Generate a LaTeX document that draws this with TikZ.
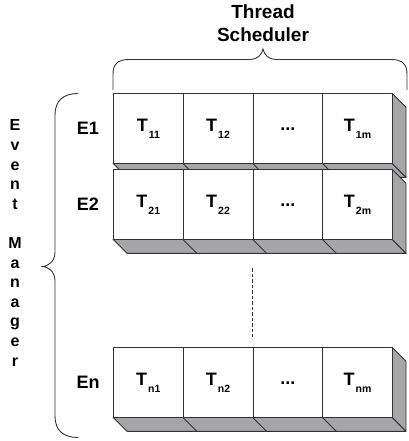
\documentclass[tikz,border=0pt]{standalone}
\usepackage{fontspec}
\setmainfont{Liberation Sans}
\definecolor{ln}{HTML}{333333}
\definecolor{slabgray}{HTML}{A6A6A8}
\tikzset{
  cell/.style={draw=ln, line width=0.9pt, fill=white, minimum width=69.75pt,
    minimum height=70pt, inner sep=0pt, anchor=north west,
    font=\fontsize{18}{18}\selectfont\bfseries},
  side/.style={draw=ln, line width=0.9pt, fill=slabgray, line join=round},
  edge3d/.style={draw=ln, line width=0.9pt},
  lbl/.style={font=\fontsize{18}{18}\selectfont\bfseries, inner sep=0pt},
  vlbl/.style={font=\fontsize{16}{19.6}\selectfont\bfseries, align=center, inner sep=0pt},
  tlbl/.style={font=\fontsize{19}{23}\selectfont\bfseries, align=center, inner sep=0pt},
  bracepath/.style={draw=ln, line width=0.9pt},
  dashline/.style={draw=ln, line width=1pt, dash pattern=on 3.5pt off 2pt},
}
\newcommand{\Tsub}[1]{T\hspace{1pt}\raisebox{-6.5pt}{\fontsize{10.5}{10.5}\selectfont\bfseries #1}}
% #1 name prefix, #2 top y, #3..#6 labels
\newcommand{\eventrow}[6]{%
  \path[side] (113,{#2+70}) -- (392,{#2+70}) -- (406,{#2+84}) -- (127,{#2+84}) -- cycle;
  \draw[edge3d] (182.75,{#2+70}) -- ++(14,14);
  \draw[edge3d] (252.5,{#2+70}) -- ++(14,14);
  \draw[edge3d] (322.25,{#2+70}) -- ++(14,14);
  \path[side] (392,#2) -- (406,{#2+14}) -- (406,{#2+84}) -- (392,{#2+70}) -- cycle;
  \node[cell] (#1a) at (113,#2) {#3};
  \node[cell] (#1b) at (182.75,#2) {#4};
  \node[cell] (#1c) at (252.5,#2) {#5};
  \node[cell] (#1d) at (322.25,#2) {#6};
}
\begin{document}
\begin{tikzpicture}[x=1pt,y=-1pt]
  \useasboundingbox (0,0) rectangle (408,441);
  % title and top brace
  \node[tlbl] (ts) at (263,23.5) {Thread\\Scheduler};
  \path[bracepath] (113,90) -- (113,74) .. controls (113,64) and (118,59.5) .. (129,59.5)
     -- (250,59.5) .. controls (257,59.5) and (262,55) .. (263,49)
     .. controls (264,55) and (269,59.5) .. (276,59.5)
     -- (391,59.5) .. controls (402,59.5) and (407,64) .. (407,74) -- (407,90);
  % rows
  \eventrow{ra}{93.3}{\Tsub{11}}{\Tsub{12}}{...}{\Tsub{1m}}
  \eventrow{rb}{169.3}{\Tsub{21}}{\Tsub{22}}{...}{\Tsub{2m}}
  \eventrow{rn}{347.3}{\Tsub{n1}}{\Tsub{n2}}{...}{\Tsub{nm}}
  % dashed connector
  \coordinate (dtop) at (252.5,268);
  \coordinate (dbot) at (252.5,337);
  \path[dashline] (dtop) -- (dbot);
  % row labels
  \node[lbl] (e1) at (88,128.3) {E1};
  \node[lbl] (e2) at (88,204.3) {E2};
  \node[lbl] (en) at (88,382.3) {En};
  % event manager
  \node[vlbl] (em) at (15,243) {E\\v\\e\\n\\t\\[19.6pt]M\\a\\n\\a\\g\\e\\r};
  % left brace
  \path[bracepath] (78,93.5) .. controls (63,93.5) and (55,101) .. (55,115)
     -- (55,252) .. controls (55,261) and (49,266.5) .. (41.5,266.5)
     .. controls (49,266.5) and (55,272) .. (55,281)
     -- (55,416) .. controls (55,430) and (63,437.5) .. (78,437.5);
\end{tikzpicture}
\end{document}
